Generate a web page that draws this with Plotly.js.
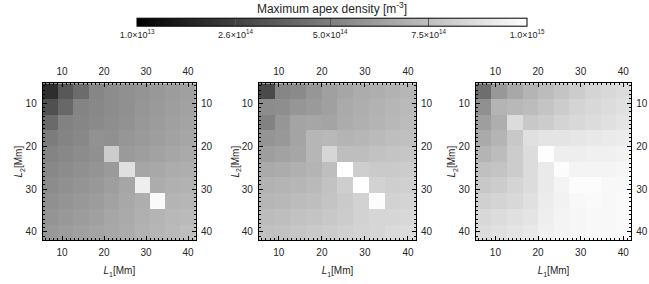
<!DOCTYPE html>
<html>
<head>
<meta charset="utf-8">
<script src="https://cdn.plot.ly/plotly-3.0.1.min.js"></script>
<style>html,body{margin:0;padding:0;background:#fff;}#chart{width:649px;height:284px;}</style>
</head>
<body>
<div id="chart"></div>
<script>
// Loop lengths (cell centres) [Mm]
const L1 = [7.2, 10.85, 14.5, 18.15, 21.8, 25.45, 29.1, 32.75, 36.4, 40.05];
const L2 = [7.2, 10.85, 14.5, 18.15, 21.8, 25.45, 29.1, 32.75, 36.4, 40.05];

// Maximum apex density, units of 1e14 m^-3 ; rows = L2 (top to bottom), cols = L1
const densityA = [
  [1.89,3.52,4.29,5.30,5.54,5.69,5.85,6.00,6.16,6.31],
  [3.21,4.14,5.22,5.38,5.54,5.69,5.92,6.08,6.23,6.39],
  [4.22,5.15,5.30,5.46,5.61,5.77,6.00,6.16,6.31,6.47],
  [4.91,5.22,5.38,5.77,5.69,5.92,6.08,6.23,6.39,6.54],
  [5.22,5.38,5.54,5.69,8.02,6.08,6.23,6.39,6.54,6.70],
  [5.38,5.54,5.69,5.85,6.08,8.80,6.54,6.62,6.78,6.86],
  [5.54,5.69,5.85,6.00,6.23,6.54,9.34,6.78,6.93,7.01],
  [5.69,5.85,6.00,6.16,6.39,6.62,6.86,9.81,7.09,7.17],
  [5.85,6.00,6.16,6.31,6.54,6.70,6.93,7.09,7.24,7.32],
  [6.00,6.16,6.31,6.47,6.62,6.78,7.01,7.17,7.32,7.48]
];
const densityB = [
  [2.97,5.30,5.45,5.92,6.31,6.54,6.77,6.85,7.01,7.16],
  [5.53,5.61,5.92,6.08,6.31,6.70,6.85,7.01,7.16,7.32],
  [5.14,5.92,6.46,6.54,6.46,6.77,6.93,7.09,7.24,7.40],
  [5.84,6.00,6.46,7.16,7.24,7.09,7.16,7.32,7.47,7.55],
  [6.23,6.39,6.54,7.16,8.41,7.47,7.47,7.63,7.71,7.78],
  [6.70,6.77,6.93,7.09,7.47,10.0,8.09,7.94,7.94,8.02],
  [7.01,7.09,7.16,7.32,7.63,8.09,10.0,8.25,8.09,8.17],
  [7.16,7.24,7.40,7.47,7.71,7.94,8.25,9.88,8.25,8.33],
  [7.40,7.47,7.63,7.71,7.86,8.02,8.25,8.41,8.41,8.48],
  [7.55,7.63,7.78,7.94,8.02,8.17,8.33,8.41,8.56,8.64]
];
const densityC = [
  [4.37,6.00,6.62,7.09,7.40,7.71,8.02,8.33,8.49,8.64],
  [5.69,7.09,7.24,7.40,7.71,8.02,8.33,8.49,8.64,8.80],
  [6.23,6.86,8.64,7.86,8.02,8.33,8.49,8.64,8.80,8.95],
  [6.70,7.09,7.86,8.80,8.95,8.95,9.03,9.11,9.18,9.26],
  [7.09,7.40,8.02,8.64,9.96,9.34,9.34,9.42,9.42,9.50],
  [7.55,7.71,8.02,8.64,9.18,9.88,9.57,9.57,9.57,9.65],
  [7.86,8.02,8.33,8.64,9.18,9.57,9.88,9.88,9.73,9.73],
  [8.18,8.33,8.49,8.80,9.26,9.50,9.73,9.81,9.73,9.81],
  [8.49,8.64,8.80,8.95,9.34,9.57,9.65,9.73,9.73,9.81],
  [8.64,8.80,8.95,9.11,9.42,9.57,9.65,9.73,9.73,9.81]
];

const cbTickVals = [0.1, 2.6, 5.0, 7.5, 10.0];
const cbTickText = ['1.0×10<sup>13</sup>','2.6×10<sup>14</sup>','5.0×10<sup>14</sup>','7.5×10<sup>14</sup>','1.0×10<sup>15</sup>'];
const axisTicks = [10, 20, 30, 40];

const FONT = 'Liberation Sans, Arial, Helvetica, sans-serif';
const TXT = '#262626';
const range = [5.375, 41.875];
const rangeRev = [41.875, 5.375];
const gray = [[0,'#000000'],[1,'#ffffff']];

function hm(z, xa, ya, showScale) {
  const t = {
    type: 'heatmap', x: L1, y: L2, z: z, xaxis: xa, yaxis: ya,
    colorscale: gray, zmin: 0.1, zmax: 10, zsmooth: false,
    showscale: showScale, hoverinfo: 'skip'
  };
  if (showScale) {
    t.colorbar = {
      orientation: 'h', x: 0.5116, xanchor: 'center', y: 0.826, yanchor: 'bottom',
      len: 0.601, lenmode: 'fraction', thickness: 8, thicknessmode: 'pixels',
      outlinecolor: '#000', outlinewidth: 1, xpad: 0, ypad: 0,
      tickvals: cbTickVals, ticktext: cbTickText, ticks: 'inside', ticklen: 8,
      tickcolor: '#555', tickwidth: 1,
      tickfont: {family: FONT, size: 9, color: TXT},
      title: {text: 'Maximum apex density [m<sup>-3</sup>]', side: 'top', font: {family: FONT, size: 12, color: TXT}}
    };
  }
  return t;
}
// invisible companions so the mirrored label axes (top / right) get drawn
function ghost(xa, ya) {
  return {type: 'scatter', mode: 'markers', x: L1, y: L2, xaxis: xa, yaxis: ya,
          marker: {opacity: 0, size: 1}, hoverinfo: 'skip', showlegend: false};
}

const data = [
  hm(densityA, 'x', 'y', true),
  hm(densityB, 'x2', 'y2', false),
  hm(densityC, 'x3', 'y3', false),
  ghost('x4', 'y4'), ghost('x5', 'y5'), ghost('x6', 'y6')
];

const domains = [[0.0658, 0.302], [0.399, 0.641], [0.733, 0.9727]];
const ydom = [0.155, 0.7067];
const minorTicks = {dtick: 1, tick0: 0, ticks: 'inside', ticklen: 2, tickcolor: '#000', showgrid: false};

function mainX(dom, anchor) {
  return {
    domain: dom, anchor: anchor, range: range, autorange: false,
    tickvals: axisTicks, ticks: 'inside', ticklen: 4, tickcolor: '#000',
    showline: true, linecolor: '#000', linewidth: 1, mirror: false,
    showgrid: false, zeroline: false, minor: minorTicks,
    tickfont: {family: FONT, size: 10, color: TXT}, ticklabelstandoff: 3,
    title: {text: '<i>L</i><sub>1</sub>[Mm]', font: {family: FONT, size: 10, color: TXT}, standoff: 10}
  };
}
function mainY(anchor) {
  return {
    domain: ydom, anchor: anchor, range: rangeRev, autorange: false,
    tickvals: axisTicks, ticks: 'inside', ticklen: 4, tickcolor: '#000',
    showline: true, linecolor: '#000', linewidth: 1, mirror: false,
    showgrid: false, zeroline: false, minor: minorTicks,
    tickfont: {family: FONT, size: 10, color: TXT}, ticklabelstandoff: 3,
    title: {text: '<i>L</i><sub>2</sub>[Mm]', font: {family: FONT, size: 10, color: TXT}, standoff: 0}
  };
}
function topX(over, anchor) {
  return {
    overlaying: over, anchor: anchor, side: 'top', range: range, autorange: false,
    tickvals: axisTicks, ticks: 'inside', ticklen: 4, tickcolor: '#000',
    showline: true, linecolor: '#000', linewidth: 1,
    showgrid: false, zeroline: false, minor: minorTicks,
    tickfont: {family: FONT, size: 10, color: TXT}, ticklabelstandoff: 3
  };
}
function rightY(over, anchor) {
  return {
    overlaying: over, anchor: anchor, side: 'right', range: rangeRev, autorange: false,
    tickvals: axisTicks, ticks: 'inside', ticklen: 4, tickcolor: '#000',
    showline: true, linecolor: '#000', linewidth: 1,
    showgrid: false, zeroline: false, minor: minorTicks,
    tickfont: {family: FONT, size: 10, color: TXT}, ticklabelstandoff: 2
  };
}

const layout = {
  width: 649, height: 284,
  margin: {l: 0, r: 0, t: 0, b: 0, autoexpand: false},
  paper_bgcolor: '#fff', plot_bgcolor: '#fff',
  showlegend: false,
  xaxis: mainX(domains[0], 'y'),
  xaxis2: mainX(domains[1], 'y2'),
  xaxis3: mainX(domains[2], 'y3'),
  yaxis: mainY('x'),
  yaxis2: mainY('x2'),
  yaxis3: mainY('x3'),
  xaxis4: topX('x', 'y4'),
  xaxis5: topX('x2', 'y5'),
  xaxis6: topX('x3', 'y6'),
  yaxis4: rightY('y', 'x4'),
  yaxis5: rightY('y2', 'x5'),
  yaxis6: rightY('y3', 'x6')
};

Plotly.newPlot('chart', data, layout, {staticPlot: true, displayModeBar: false});
</script>
</body>
</html>
